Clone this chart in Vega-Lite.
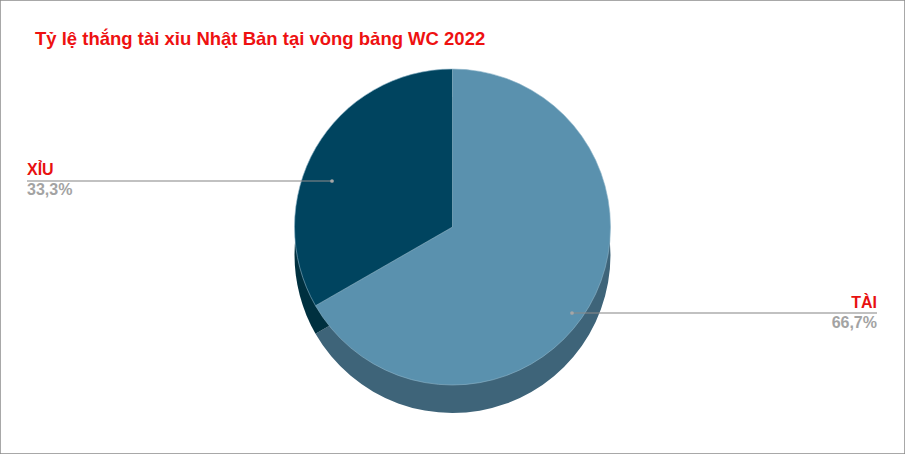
{
  "$schema": "https://vega.github.io/schema/vega-lite/v6.json",
  "width": 905,
  "height": 454,
  "autosize": {"type": "none"},
  "padding": 0,
  "background": "white",
  "config": {
    "view": {"stroke": "#8c8c8c", "strokeWidth": 1.5},
    "font": "Liberation Sans",
    "locale": {"number": {"decimal": ",", "thousands": ".", "grouping": [3], "currency": ["", " ₫"]}}
  },
  "title": {
    "text": "Tỷ lệ thắng tài xỉu Nhật Bản tại vòng bảng WC 2022",
    "anchor": "start",
    "frame": "group",
    "orient": "top",
    "offset": -63,
    "dx": 35,
    "baseline": "alphabetic",
    "font": "Liberation Sans",
    "fontSize": 18.5,
    "fontWeight": "bold",
    "color": "#ee1111"
  },
  "data": {
    "values": [
      {"ket_qua": "TÀI", "ty_le": 0.667},
      {"ket_qua": "XỈU", "ty_le": 0.333}
    ]
  },
  "layer": [
    {
      "mark": {"type": "arc", "radius": 158, "yOffset": 28},
      "encoding": {
        "theta": {"field": "ty_le", "type": "quantitative", "stack": true},
        "order": {"field": "ket_qua", "sort": "ascending"},
        "color": {
          "field": "ket_qua", "type": "nominal",
          "scale": {"domain": ["TÀI", "XỈU"], "range": ["#3e6479", "#00303f"]},
          "legend": null
        }
      }
    },
    {
      "mark": {"type": "arc", "radius": 158, "stroke": "#8fb6ca", "strokeWidth": 0.6},
      "encoding": {
        "theta": {"field": "ty_le", "type": "quantitative", "stack": true},
        "order": {"field": "ket_qua", "sort": "ascending"},
        "color": {
          "field": "ket_qua", "type": "nominal",
          "scale": {"domain": ["TÀI", "XỈU"], "range": ["#5a91ae", "#00445f"]},
          "legend": null
        }
      }
    },
    {
      "mark": {"type": "tick", "orient": "horizontal", "size": 305, "thickness": 1.5, "color": "#8a8a8a"},
      "encoding": {
        "x": {"field": "ket_qua", "type": "nominal", "axis": null,
              "scale": {"type": "point", "domain": ["XỈU", "TÀI"], "range": [179.5, 724.5], "padding": 0}},
        "y": {"field": "ket_qua", "type": "nominal", "axis": null,
              "scale": {"type": "point", "domain": ["XỈU", "TÀI"], "range": [181, 313], "padding": 0}}
      }
    },
    {
      "mark": {"type": "point", "filled": true, "size": 14, "color": "#a6a6a6", "opacity": 1},
      "encoding": {
        "x": {"field": "ket_qua", "type": "nominal", "axis": null,
              "scale": {"type": "point", "domain": ["XỈU", "TÀI"], "range": [332, 572], "padding": 0}},
        "y": {"field": "ket_qua", "type": "nominal", "axis": null,
              "scale": {"type": "point", "domain": ["XỈU", "TÀI"], "range": [181, 313], "padding": 0}}
      }
    },
    {
      "mark": {
        "type": "text", "fontSize": 16, "fontWeight": "bold", "color": "#e81010",
        "baseline": "alphabetic",
        "align": {"expr": "datum.ket_qua == 'XỈU' ? 'left' : 'right'"}
      },
      "encoding": {
        "x": {"field": "ket_qua", "type": "nominal", "axis": null,
              "scale": {"type": "point", "domain": ["XỈU", "TÀI"], "range": [27, 877], "padding": 0}},
        "y": {"field": "ket_qua", "type": "nominal", "axis": null,
              "scale": {"type": "point", "domain": ["XỈU", "TÀI"], "range": [175, 308], "padding": 0}},
        "text": {"field": "ket_qua", "type": "nominal"}
      }
    },
    {
      "mark": {
        "type": "text", "fontSize": 16, "fontWeight": "bold", "color": "#a3a3a3",
        "baseline": "alphabetic",
        "align": {"expr": "datum.ket_qua == 'XỈU' ? 'left' : 'right'"}
      },
      "encoding": {
        "x": {"field": "ket_qua", "type": "nominal", "axis": null,
              "scale": {"type": "point", "domain": ["XỈU", "TÀI"], "range": [27, 877], "padding": 0}},
        "y": {"field": "ket_qua", "type": "nominal", "axis": null,
              "scale": {"type": "point", "domain": ["XỈU", "TÀI"], "range": [195, 328], "padding": 0}},
        "text": {"field": "ty_le", "type": "quantitative", "format": ".1%"}
      }
    }
  ],
  "resolve": {"scale": {"color": "independent", "x": "independent", "y": "independent"}}
}
